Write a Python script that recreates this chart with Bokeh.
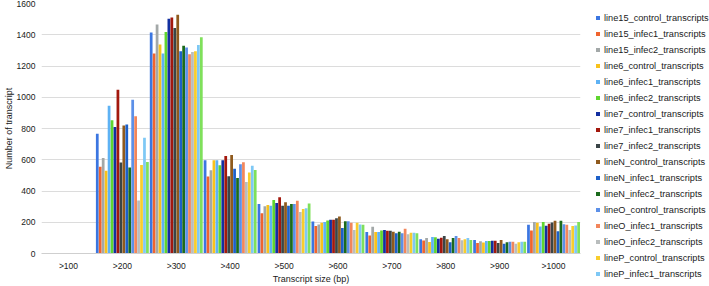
from bokeh.plotting import figure
from bokeh.models import Range1d, Legend, LegendItem, FixedTicker
from bokeh.transform import dodge
from bokeh.layouts import row
from bokeh.embed import file_html
from bokeh.resources import INLINE

categories = [">100", ">200", ">300", ">400", ">500", ">600", ">700", ">800", ">900", ">1000"]

line15_control = [0, 766, 1414, 597, 317, 205, 138, 91, 87, 184]
line15_infec1 = [0, 555, 1280, 493, 258, 176, 116, 83, 68, 148]
line15_infec2 = [0, 612, 1465, 533, 303, 186, 171, 100, 78, 201]
line6_control = [0, 529, 1338, 597, 311, 197, 138, 74, 70, 197]
line6_infec1 = [0, 946, 1280, 597, 306, 201, 138, 106, 80, 173]
line6_infec2 = [0, 853, 1418, 565, 343, 212, 148, 104, 80, 201]
line7_control = [0, 809, 1503, 597, 324, 216, 150, 95, 82, 178]
line7_infec1 = [0, 1048, 1511, 624, 360, 216, 146, 101, 82, 190]
line7_infec2 = [0, 582, 1443, 495, 306, 226, 146, 112, 68, 199]
lineN_control = [0, 819, 1528, 630, 328, 237, 140, 91, 87, 209]
lineN_infec1 = [0, 825, 1295, 542, 306, 163, 129, 72, 63, 142]
lineN_infec2 = [0, 550, 1329, 483, 317, 207, 140, 100, 72, 209]
lineO_control = [0, 984, 1318, 571, 317, 207, 129, 112, 76, 188]
lineO_infec1 = [0, 878, 1275, 584, 338, 197, 159, 100, 76, 184]
lineO_infec2 = [0, 339, 1290, 457, 265, 150, 123, 85, 63, 150]
lineP_control = [0, 567, 1295, 519, 285, 197, 133, 91, 72, 176]
lineP_infec1 = [0, 741, 1335, 561, 290, 186, 133, 100, 76, 180]
lineP_infec2 = [0, 586, 1384, 535, 320, 184, 129, 87, 76, 201]

series_names = [
    "line15_control_transcripts", "line15_infec1_transcripts", "line15_infec2_transcripts",
    "line6_control_transcripts", "line6_infec1_transcripts", "line6_infec2_transcripts",
    "line7_control_transcripts", "line7_infec1_transcripts", "line7_infec2_transcripts",
    "lineN_control_transcripts", "lineN_infec1_transcripts", "lineN_infec2_transcripts",
    "lineO_control_transcripts", "lineO_infec1_transcripts", "lineO_infec2_transcripts",
    "lineP_control_transcripts", "lineP_infec1_transcripts", "lineP_infec2_transcripts",
]
series_values = [
    line15_control, line15_infec1, line15_infec2,
    line6_control, line6_infec1, line6_infec2,
    line7_control, line7_infec1, line7_infec2,
    lineN_control, lineN_infec1, lineN_infec2,
    lineO_control, lineO_infec1, lineO_infec2,
    lineP_control, lineP_infec1, lineP_infec2,
]
colors = [
    "#3b76e1", "#f0642e", "#a3a8a8",
    "#f8c21c", "#5eb2f4", "#5fd52f",
    "#122fa0", "#a3180d", "#3a4547",
    "#8f5a1d", "#1d60c8", "#1b6a1c",
    "#5c90e8", "#f2865b", "#b9bdbd",
    "#f8cd2c", "#7ec8f5", "#7fe05b",
]
y_ticks = [0, 200, 400, 600, 800, 1000, 1200, 1400, 1600]
legend_count = 17

FONT = "Liberation Sans"

p = figure(width=590, height=286, x_range=categories, y_range=Range1d(0, 1600),
           output_backend="svg", toolbar_location=None)
p.min_border_left = 38
p.min_border_right = 10
p.min_border_top = 3
p.min_border_bottom = 31
p.outline_line_color = None

data = {"cat": categories}
for name, vals in zip(series_names, series_values):
    data[name] = vals

n = len(series_names)
pitch = 0.985 / n
for j, (name, col) in enumerate(zip(series_names, colors)):
    p.vbar(x=dodge("cat", (j - (n - 1) / 2) * pitch, range=p.x_range), top=name,
           width=pitch * 0.93, source=data, fill_color=col, line_color=None)

p.xgrid.grid_line_color = None
p.ygrid.grid_line_color = "#dcdcdc"
p.ygrid.grid_line_width = 1
p.yaxis.ticker = FixedTicker(ticks=y_ticks)

for ax in (p.xaxis[0], p.yaxis[0]):
    ax.major_tick_line_color = None
    ax.minor_tick_line_color = None
    ax.major_tick_out = 0
    ax.major_tick_in = 0
    ax.minor_tick_out = 0
    ax.minor_tick_in = 0
    ax.major_label_text_font = FONT
    ax.major_label_text_font_size = "8.5px"
    ax.major_label_text_color = "#1a1a1a"
    ax.axis_label_text_font = FONT
    ax.axis_label_text_font_size = "9px"
    ax.axis_label_text_font_style = "normal"
    ax.axis_label_text_color = "#1a1a1a"

p.yaxis.axis_line_color = None
p.xaxis.axis_line_color = "#cfcfcf"
p.xaxis.axis_label = "Transcript size (bp)"
p.yaxis.axis_label = "Number of transcript"
p.xaxis.major_label_standoff = 7
p.xaxis.axis_label_standoff = 0
p.yaxis.major_label_standoff = 6
p.yaxis.axis_label_standoff = 0
p.x_range.range_padding = 0

# legend panel (separate canvas so the legend can span the full height)
lg = figure(width=119, height=286, x_range=Range1d(0, 1), y_range=Range1d(0, 1),
            output_backend="svg", toolbar_location=None)
lg.axis.visible = False
lg.grid.visible = False
lg.outline_line_color = None
lg.min_border = 0
lg.frame_align = False
lg_source = {"x": [-5.0], "top": [-5.0]}
items = []
for name, col in zip(series_names[:legend_count], colors[:legend_count]):
    r = lg.vbar(x="x", top="top", width=0.1, source=lg_source, fill_color=col, line_color=None)
    items.append(LegendItem(label=name, renderers=[r]))

legend = Legend(items=items, location=(5, 7))
legend.border_line_color = None
legend.background_fill_alpha = 0
legend.padding = 0
legend.margin = 0
legend.spacing = 5
legend.glyph_width = 5
legend.glyph_height = 5
legend.label_height = 11
legend.label_standoff = 4
legend.label_text_font = FONT
legend.label_text_font_size = "9.2px"
legend.label_text_color = "#1a1a1a"
lg.add_layout(legend, "center")

layout = row(p, lg)
open("out.html", "w").write(file_html(layout, INLINE))
